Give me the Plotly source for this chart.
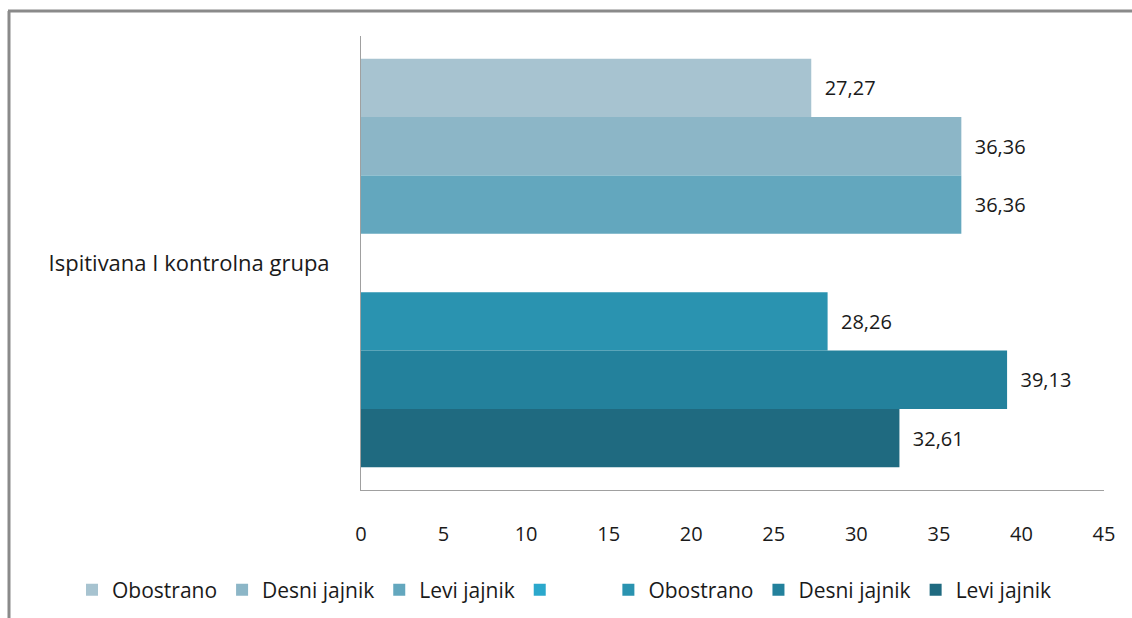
import plotly.graph_objects as go

# Category and series
category = ["Ispitivana I kontrolna grupa"]
series_names = ["Obostrano", "Desni jajnik", "Levi jajnik", "\u00a0" * 8,
                "Obostrano", "Desni jajnik", "Levi jajnik"]
series_values = [27.27, 36.36, 36.36, None, 28.26, 39.13, 32.61]
series_colors = ["#A7C3D0", "#8CB6C7", "#63A7BE", "#2BA8CC",
                 "#2A93B0", "#23819C", "#1F6A80"]
x_ticks = [0, 5, 10, 15, 20, 25, 30, 35, 40, 45]

FONT = "Open Sans"

fig = go.Figure()
for name, val, col in zip(series_names, series_values, series_colors):
    fig.add_trace(go.Bar(
        y=category,
        x=[val],
        name=name,
        orientation="h",
        marker=dict(color=col, line=dict(width=0)),
        texttemplate="\u00a0\u00a0%{x:.2f}",
        textposition="outside",
        textfont=dict(family=FONT, size=20, color="#1a1a1a"),
        cliponaxis=False,
        hoverinfo="skip",
    ))

# outer frame (top and left edges visible)
frame = dict(type="line", xref="paper", yref="paper",
             line=dict(color="#8a8a8a", width=3))
W, H = 1132, 618
L, R, T, B = 361, 28, 36, 128
pw, ph = W - L - R, H - T - B
def px(x):
    return (x - L) / pw
def py(y):
    return (H - B - y) / ph
fig.add_shape(**frame, x0=px(8), x1=px(W + 5), y0=py(11), y1=py(11))
fig.add_shape(**frame, x0=px(9), x1=px(9), y0=py(11), y1=py(H + 5))

fig.update_layout(
    width=W, height=H,
    margin=dict(l=L, r=R, t=T, b=B, pad=0, autoexpand=False),
    paper_bgcolor="white",
    plot_bgcolor="white",
    barmode="group",
    bargap=0.10,
    bargroupgap=0,
    separators=", ",
    font=dict(family=FONT, size=19, color="#1a1a1a"),
    showlegend=True,
    legend=dict(
        orientation="h",
        x=px(72), xanchor="left",
        y=py(590), yanchor="middle",
        font=dict(family=FONT, size=21, color="#1a1a1a"),
        itemwidth=30,
        traceorder="normal",
        bgcolor="rgba(0,0,0,0)",
    ),
    xaxis=dict(
        range=[0, 45],
        tickvals=x_ticks,
        ticks="",
        showgrid=False,
        zeroline=False,
        showline=True,
        linecolor="#a0a0a0",
        linewidth=1,
        ticklabelstandoff=26,
        tickfont=dict(family=FONT, size=20, color="#1a1a1a"),
    ),
    yaxis=dict(
        autorange="reversed",
        ticks="",
        showgrid=False,
        showline=True,
        linecolor="#a0a0a0",
        linewidth=1,
        ticklabelstandoff=26,
        tickfont=dict(family=FONT, size=22, color="#1a1a1a"),
    ),
)

fig.write_html("out.html")
